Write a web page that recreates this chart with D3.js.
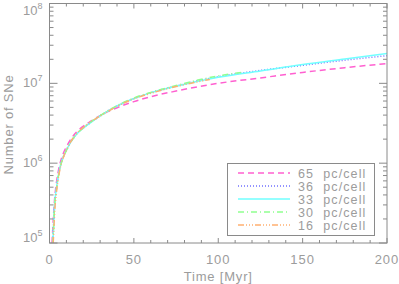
<!DOCTYPE html>
<html>
<head>
<meta charset="utf-8">
<script src="https://cdn.jsdelivr.net/npm/d3@7"></script>
<style>
  body { margin: 0; background: #fff; }
  text { font-family: "Liberation Sans", Arial, sans-serif; fill: #9c9c9c; }
</style>
</head>
<body>
<div id="chart"></div>
<script>
// Data (time in Myr, cumulative number of SNe)
var labels = ["65 pc/cell", "36 pc/cell", "33 pc/cell", "30 pc/cell", "16 pc/cell"];

var t65 = [1.5, 2, 3, 4, 5, 6, 8, 10, 13, 16, 20, 25, 30, 40, 50, 60, 75, 100, 125, 150, 175, 200];
var n65 = [1.0e5, 1.6e5, 3.5e5, 5.5e5, 7.5e5, 9.5e5, 1.3e6, 1.6e6, 2.05e6, 2.45e6, 2.9e6, 3.4e6, 3.95e6, 4.95e6, 5.9e6, 6.8e6, 8.0e6, 1.0e7, 1.17e7, 1.37e7, 1.57e7, 1.77e7];

var t36 = [2, 2.5, 3, 4, 5, 6, 8, 10, 13, 16, 20, 25, 30, 40, 50, 60, 75, 100, 125, 150, 175, 200];
var n36 = [1.0e5, 1.8e5, 2.9e5, 4.6e5, 6.4e5, 8.4e5, 1.17e6, 1.45e6, 1.9e6, 2.3e6, 2.75e6, 3.3e6, 3.9e6, 5.2e6, 6.45e6, 7.6e6, 9.25e6, 1.21e7, 1.45e7, 1.68e7, 1.95e7, 2.22e7];

var t33 = [2, 2.5, 3, 4, 5, 6, 8, 10, 13, 16, 20, 25, 30, 40, 50, 60, 75, 100, 125, 150, 175, 200];
var n33 = [1.0e5, 1.8e5, 3.0e5, 4.7e5, 6.5e5, 8.5e5, 1.18e6, 1.45e6, 1.9e6, 2.3e6, 2.75e6, 3.3e6, 3.9e6, 5.2e6, 6.45e6, 7.6e6, 9.2e6, 1.19e7, 1.43e7, 1.72e7, 2.02e7, 2.37e7];

var t30 = [2, 2.5, 3, 4, 5, 6, 8, 10, 13, 16, 20, 25, 30, 40, 50, 60, 75, 100, 115];
var n30 = [1.0e5, 1.7e5, 2.8e5, 4.5e5, 6.3e5, 8.3e5, 1.16e6, 1.44e6, 1.9e6, 2.3e6, 2.78e6, 3.35e6, 3.95e6, 5.25e6, 6.55e6, 7.7e6, 9.4e6, 1.24e7, 1.38e7];

var t16 = [2.2, 2.7, 3, 4, 5, 6, 8, 10, 13, 16, 20, 25, 30, 40, 50, 60, 75, 95];
var n16 = [1.0e5, 1.7e5, 2.3e5, 4.1e5, 6.0e5, 8.0e5, 1.15e6, 1.45e6, 1.92e6, 2.35e6, 2.8e6, 3.35e6, 3.9e6, 5.15e6, 6.4e6, 7.5e6, 9.1e6, 1.12e7];

var xTicks = [0, 50, 100, 150, 200];
var yTicks = [1e5, 1e6, 1e7, 1e8];

var series = [
  { name: labels[0], t: t65, n: n65, color: "#ff60d0", dash: "6,4" },
  { name: labels[1], t: t36, n: n36, color: "#7070ff", dash: "1,2" },
  { name: labels[2], t: t33, n: n33, color: "#70ffff", dash: "none" },
  { name: labels[3], t: t30, n: n30, color: "#90ff90", dash: "6,3,1,3" },
  { name: labels[4], t: t16, n: n16, color: "#ffb070", dash: "6,2,1,2,1,2,1,2" }
];

var W = 399, H = 284;
var m = { left: 49.5, right: 12, top: 3.5, bottom: 41 };
var pw = W - m.left - m.right, ph = H - m.top - m.bottom;
var axisColor = "#8a8a8a";

var svg = d3.select("#chart").append("svg")
    .attr("width", W)
    .attr("height", H);

var x = d3.scaleLinear().domain([0, 200]).range([m.left, m.left + pw]);
var y = d3.scaleLog().domain([1e5, 1e8]).range([m.top + ph, m.top]);

svg.append("clipPath").attr("id", "clip")
  .append("rect").attr("x", m.left).attr("y", m.top).attr("width", pw).attr("height", ph);

// curves
var line = d3.line()
    .x(function(d) { return x(d[0]); })
    .y(function(d) { return y(d[1]); })
    .curve(d3.curveMonotoneX);

svg.append("g").attr("clip-path", "url(#clip)")
  .selectAll("path")
  .data(series)
  .enter()
  .append("path")
    .attr("d", function(s) { return line(d3.zip(s.t, s.n)); })
    .style("fill", "none")
    .style("stroke", function(s) { return s.color; })
    .style("stroke-width", 1.5)
    .style("stroke-dasharray", function(s) { return s.dash; });

// frame
svg.append("rect")
    .attr("x", m.left).attr("y", m.top).attr("width", pw).attr("height", ph)
    .attr("fill", "none").attr("stroke", axisColor).attr("stroke-width", 1);

// x ticks (bottom and top), minor every 10
var xMinor = d3.range(0, 201, 10);
var gx = svg.append("g").attr("stroke", axisColor).attr("stroke-width", 1);
xMinor.forEach(function(v) {
  var len = (v % 50 === 0) ? 5 : 3;
  gx.append("line").attr("x1", x(v)).attr("x2", x(v)).attr("y1", m.top + ph).attr("y2", m.top + ph - len);
  gx.append("line").attr("x1", x(v)).attr("x2", x(v)).attr("y1", m.top).attr("y2", m.top + len);
});

svg.selectAll(".xlab")
  .data(xTicks)
  .enter()
  .append("text")
    .attr("x", function(d) { return x(d); })
    .attr("y", 264)
    .attr("text-anchor", "middle")
    .attr("font-size", 13)
    .attr("letter-spacing", 1)
    .text(function(d) { return d; });

// y ticks (left and right), log minors
var gy = svg.append("g").attr("stroke", axisColor).attr("stroke-width", 1);
[1e5, 1e6, 1e7].forEach(function(dec) {
  for (var k = 1; k <= 9; k++) {
    var v = dec * k, len = (k === 1) ? 8 : 4;
    gy.append("line").attr("x1", m.left).attr("x2", m.left + len).attr("y1", y(v)).attr("y2", y(v));
    gy.append("line").attr("x1", m.left + pw).attr("x2", m.left + pw - len).attr("y1", y(v)).attr("y2", y(v));
  }
});
gy.append("line").attr("x1", m.left).attr("x2", m.left + 8).attr("y1", y(1e8)).attr("y2", y(1e8));
gy.append("line").attr("x1", m.left + pw).attr("x2", m.left + pw - 8).attr("y1", y(1e8)).attr("y2", y(1e8));

var ylab = svg.selectAll(".ylab")
  .data(yTicks)
  .enter()
  .append("text")
    .attr("x", 23)
    .attr("y", function(d) { return Math.max(15, Math.min(242, y(d) + 4)); })
    .attr("font-size", 13);
ylab.append("tspan").text("10");
ylab.append("tspan")
    .attr("dy", -6)
    .attr("font-size", 9)
    .text(function(d) { return Math.round(Math.log10(d)); });

// axis titles
svg.append("text")
    .attr("x", m.left + pw / 2)
    .attr("y", 281)
    .attr("text-anchor", "middle")
    .attr("font-size", 13)
    .attr("letter-spacing", 0.8)
    .text("Time [Myr]");

svg.append("text")
    .attr("transform", "translate(13," + (m.top + 121) + ") rotate(-90)")
    .attr("text-anchor", "middle")
    .attr("font-size", 13)
    .attr("letter-spacing", 0.8)
    .text("Number of SNe");

// legend
var lg = svg.append("g");
lg.append("rect")
    .attr("x", 227.5).attr("y", 163.5).attr("width", 147).attr("height", 72)
    .attr("fill", "#fff").attr("stroke", axisColor).attr("stroke-width", 1);

var rows = lg.selectAll(".row")
  .data(series)
  .enter()
  .append("g")
    .attr("class", "row")
    .attr("transform", function(d, i) { return "translate(0," + (173 + i * 13) + ")"; });

rows.append("line")
    .attr("x1", 238).attr("x2", 290).attr("y1", 0).attr("y2", 0)
    .style("stroke", function(s) { return s.color; })
    .style("stroke-width", 1.5)
    .style("stroke-dasharray", function(s) { return s.dash; });

rows.append("text")
    .attr("x", 298)
    .attr("y", 4.5)
    .attr("font-size", 12.5)
    .attr("letter-spacing", 1.1)
    .attr("xml:space", "preserve")
    .text(function(s) { return s.name.replace(" ", "  "); });
</script>
</body>
</html>
